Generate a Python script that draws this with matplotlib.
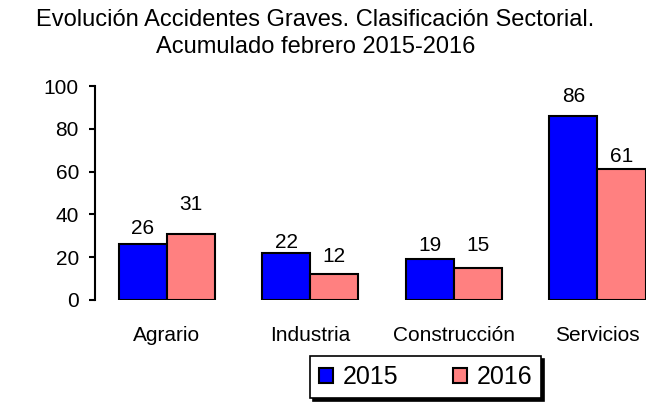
import numpy as np
import matplotlib
matplotlib.use('Agg')
from matplotlib import pyplot as plt

plt.rcParams['font.family'] = ['Liberation Sans', 'DejaVu Sans']

sectores = ['Agrario', 'Industria', 'Construcción', 'Servicios']
v2015 = [26, 22, 19, 86]
v2016 = [31, 12, 15, 61]

# label gap above each bar (px), as placed in the original
gap2015 = [10, 5, 8, 14]
gap2016 = [24, 12, 17, 7]

fig = plt.figure(figsize=(6.46, 4.08), dpi=100)
ax = fig.add_axes([0.147, 0.265, 0.889, 0.524])

x = np.arange(len(sectores))
w = 0.335
b1 = ax.bar(x - w/2, v2015, w, color='#0000FF', edgecolor='black', linewidth=1.5, label='2015')
b2 = ax.bar(x + w/2, v2016, w, color='#FF8080', edgecolor='black', linewidth=1.5, label='2016')

for bars, gaps in ((b1, gap2015), (b2, gap2016)):
    for r, g in zip(bars, gaps):
        ax.annotate('%d' % r.get_height(), (r.get_x() + r.get_width()/2, r.get_height()),
                    xytext=(0, g * 0.72), textcoords='offset points', ha='center', va='baseline',
                    fontsize=15)

ax.set_xlim(-0.5, 3.5)
ax.set_ylim(0, 100)
ax.set_yticks(range(0, 101, 20))
ax.set_xticks(x)
ax.set_xticklabels(sectores, fontsize=15)
ax.tick_params(axis='x', length=0, pad=19)
ax.tick_params(axis='y', labelsize=15, width=1.5, length=4.5, pad=7)
for s in ('top', 'right', 'bottom'):
    ax.spines[s].set_visible(False)
ax.spines['left'].set_linewidth(1.5)

fig.text(0.488, 0.951, 'Evolución Accidentes Graves. Clasificación Sectorial.',
         ha='center', va='center', fontsize=17)
fig.text(0.488, 0.885, 'Acumulado febrero 2015-2016', ha='center', va='center', fontsize=17)

leg = fig.legend(loc='center', bbox_to_anchor=(0.659, 0.076), ncol=2, fontsize=18,
                 frameon=True, fancybox=False, shadow={'color': 'black', 'alpha': 1}, edgecolor='black',
                 handlelength=0.55, handleheight=0.55, handletextpad=0.4, columnspacing=2.2,
                 borderpad=0.35, borderaxespad=0)
leg.get_frame().set_linewidth(1.2)

fig.savefig('out.png', dpi=100)
